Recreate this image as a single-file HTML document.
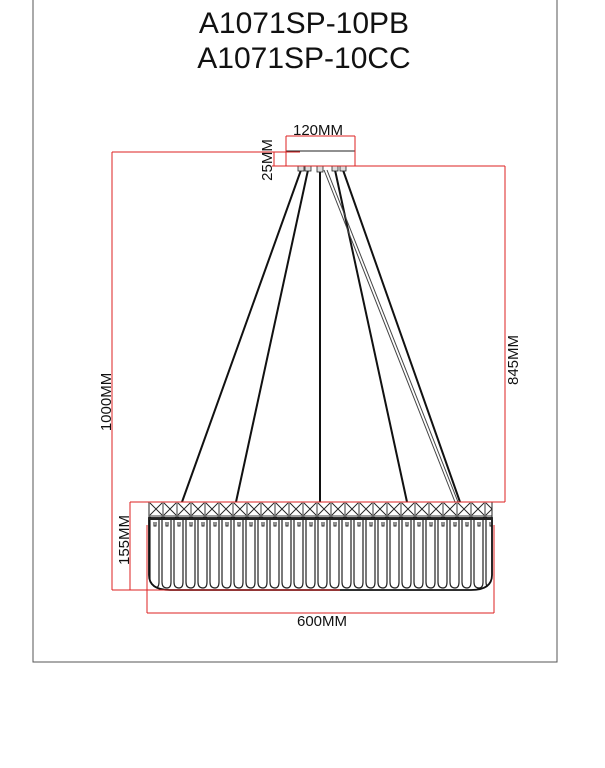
<!DOCTYPE html>
<html><head><style>
body{margin:0;background:#fff;width:605px;height:763px;overflow:hidden;font-family:"Liberation Sans",sans-serif}
</style></head><body>
<svg width="605" height="763" viewBox="0 0 605 763" xmlns="http://www.w3.org/2000/svg">
<defs>
<pattern id="xp" x="149" y="502" width="14" height="14" patternUnits="userSpaceOnUse">
<rect width="14" height="14" fill="none" stroke="#222" stroke-width="0.9"/>
<path d="M1 1L13 13M13 1L1 13" stroke="#222" stroke-width="0.9"/>
</pattern>
<pattern id="rib" x="149" y="518" width="12" height="80" patternUnits="userSpaceOnUse">
<path d="M1 0V64Q1 70 6 70Q10 70 10 64V0" stroke="#222" stroke-width="1.2" fill="none"/>
<path d="M5 4V8H7V4" stroke="#222" stroke-width="1" fill="none"/>
</pattern>
</defs>
<path d="M33 0V662H557V0" fill="none" stroke="#555" stroke-width="1"/>
<text x="304" y="33" font-size="30" text-anchor="middle" fill="#111">A1071SP-10PB</text>
<text x="304" y="68" font-size="30" text-anchor="middle" fill="#111">A1071SP-10CC</text>
<rect x="286" y="151" width="69" height="15" fill="#fff" stroke="#222" stroke-width="1"/>
<g stroke="#111" stroke-width="2" fill="none">
<line x1="301" y1="170" x2="182" y2="502"/>
<line x1="308" y1="170" x2="236" y2="502"/>
<line x1="320" y1="170" x2="320" y2="502"/>
<line x1="335" y1="170" x2="407" y2="502"/>
<line x1="343" y1="170" x2="460" y2="502"/>
</g>
<line x1="324" y1="170" x2="455" y2="502" stroke="#444" stroke-width="1"/>
<line x1="327" y1="170" x2="458" y2="502" stroke="#444" stroke-width="1"/>
<g fill="#ddd" stroke="#222" stroke-width="0.8">
<rect x="298" y="166" width="6" height="5"/><rect x="305" y="166" width="6" height="5"/>
<rect x="317" y="166" width="6" height="6"/>
<rect x="332" y="166" width="6" height="5"/><rect x="340" y="166" width="6" height="5"/>
</g>
<rect x="149" y="502" width="343" height="16" fill="url(#xp)" stroke="#222"/>
<path d="M149 518V575Q149 590 170 590H471Q492 590 492 575V518Z" fill="url(#rib)" stroke="#111" stroke-width="1.8"/>
<line x1="149" y1="519" x2="492" y2="519" stroke="#222" stroke-width="2"/>
<g stroke="#d22" stroke-width="1" fill="none">
<line x1="112" y1="152" x2="300" y2="152"/>
<line x1="112" y1="152" x2="112" y2="590"/>
<line x1="112" y1="590" x2="340" y2="590"/>
<line x1="286" y1="136" x2="355" y2="136"/>
<line x1="286" y1="136" x2="286" y2="166"/><line x1="355" y1="136" x2="355" y2="166"/>
<line x1="274" y1="152" x2="274" y2="166"/>
<line x1="272" y1="166" x2="505" y2="166"/>
<line x1="505" y1="166" x2="505" y2="502"/>
<line x1="130" y1="502" x2="505" y2="502"/>
<line x1="130" y1="502" x2="130" y2="590"/>
<line x1="147" y1="525" x2="147" y2="613"/>
<line x1="494" y1="525" x2="494" y2="613"/>
<line x1="147" y1="613" x2="494" y2="613"/>
</g>
<g font-size="15" fill="#111">
<text x="318" y="135" text-anchor="middle">120MM</text>
<text transform="translate(272,160) rotate(-90)" text-anchor="middle">25MM</text>
<text transform="translate(111,402) rotate(-90)" text-anchor="middle">1000MM</text>
<text transform="translate(518,360) rotate(-90)" text-anchor="middle">845MM</text>
<text transform="translate(129,540) rotate(-90)" text-anchor="middle">155MM</text>
<text x="322" y="626" text-anchor="middle">600MM</text>
</g>
</svg>
</body></html>
